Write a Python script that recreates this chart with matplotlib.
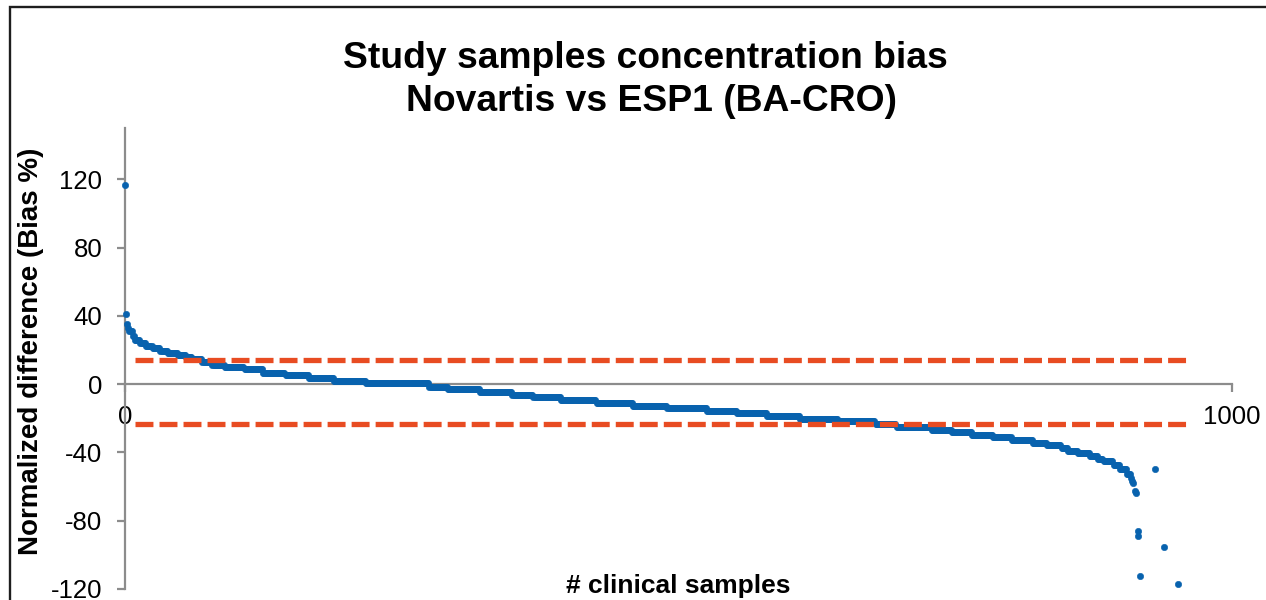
import numpy as np
import matplotlib
matplotlib.use("Agg")
import matplotlib.pyplot as plt
from matplotlib.patches import Rectangle

plt.rcParams['font.family'] = ['Liberation Sans', 'DejaVu Sans']
plt.rcParams['axes.unicode_minus'] = False

# ---- data ----
# sorted bias values (run-length: level and number of consecutive samples)
bias_levels = [116.4, 41, 35, 33, 31, 28, 26, 24, 22.5, 21, 19.5, 18.5, 17, 15.8, 14.6,
               12.8, 11.2, 10.2, 8.7, 6.7, 5.3, 3.7, 2.0, 0.4, -1.6, -3.0, -4.5, -6.1,
               -7.7, -9.3, -11.0, -12.6, -14.1, -15.8, -17.1, -18.7, -20.3, -21.8, -23.4,
               -25.0, -26.6, -28.2, -29.6, -31.1, -32.7, -34.3, -35.9, -37.4, -39.0, -40.6,
               -42.2, -43.7, -45.0, -47.6, -49.5, -52.5, -55.2, -56.8, -58.0, -62.6, -64.0]
bias_counts = [1, 1, 1, 1, 3, 2, 5, 5, 6, 7, 7, 9, 7, 6, 9, 9, 11, 18, 17, 20, 21, 23, 29,
               57, 17, 29, 29, 19, 25, 32, 33, 31, 36, 27, 27, 30, 34, 34, 19, 32, 18, 18,
               19, 17, 19, 13, 13, 6, 9, 11, 7, 5, 9, 6, 6, 4, 1, 1, 1, 1, 1]
outlier_x = [915, 915, 917, 930, 939, 951]
outlier_y = [-86.1, -89.1, -112.6, -49.7, -95.4, -117.1]

limit_x = [9, 962]
upper_limit = 14.4
lower_limit = -23.1

title_line1 = "Study samples concentration bias"
title_line2 = "Novartis vs ESP1 (BA-CRO)"
x_label = "# clinical samples"
y_label = "Normalized difference (Bias %)"
x_ticks = [0, 1000]
y_ticks = [-120, -80, -40, 0, 40, 80, 120]

# ---- build series ----
bias = np.repeat(np.array(bias_levels, dtype=float), bias_counts)
idx = np.arange(len(bias))

W, H = 1266, 600
fig = plt.figure(figsize=(W / 100, H / 100), dpi=100)
fig.patch.set_facecolor('white')

ax = fig.add_axes([125 / W, 1 - 589 / H, (1232 - 125) / W, (589 - 128) / H])
ax.set_xlim(0, 1000)
ax.set_ylim(-120, 150)

blue = '#0862AE'
orange = '#E84C22'
axis_gray = '#8C8C8C'

ax.plot(idx, bias, linestyle='none', marker='o', ms=4.6, mew=0.4, mec=blue, color=blue,
        zorder=3, clip_on=False)
ax.plot(outlier_x, outlier_y, linestyle='none', marker='o', ms=4.6, mew=0.4, mec=blue,
        color=blue, zorder=3, clip_on=False)

for lvl in (upper_limit, lower_limit):
    ax.plot(limit_x, [lvl, lvl], color=orange, lw=3.8, dashes=(3.4, 1.15),
            solid_capstyle='butt', dash_capstyle='butt', zorder=4)

for s in ('top', 'right'):
    ax.spines[s].set_visible(False)
ax.spines['bottom'].set_position(('data', 0))
for s in ('left', 'bottom'):
    ax.spines[s].set_color(axis_gray)
    ax.spines[s].set_linewidth(1.6)
    ax.spines[s].set_zorder(2)

ax.set_xticks(x_ticks)
ax.set_yticks(y_ticks)
ax.set_xticklabels([str(v) for v in x_ticks])
ax.set_yticklabels([str(v) for v in y_ticks])
ax.tick_params(axis='both', direction='out', length=5.8, width=1.6, color=axis_gray,
               labelsize=18.5, labelcolor='black')
ax.tick_params(axis='y', pad=10.5)
ax.tick_params(axis='x', pad=9)
ax.patch.set_alpha(0)

fig.text(645 / W, 1 - 68 / H, title_line1, ha='center', va='baseline',
         fontsize=26.8, fontweight='bold')
fig.text(652 / W, 1 - 111 / H, title_line2, ha='center', va='baseline',
         fontsize=26.8, fontweight='bold')
fig.text(678 / W, 1 - 593 / H, x_label, ha='center', va='baseline',
         fontsize=19, fontweight='bold')
fig.text(31 / W, 1 - 351 / H, y_label, ha='center', va='center', rotation=90,
         fontsize=20, fontweight='bold')

fig.patches.append(Rectangle((9.7 / W, -0.1), 2.0, (1 - 7.3 / H) + 0.1,
                             transform=fig.transFigure, fill=False,
                             edgecolor='#1E1E1E', linewidth=1.7, zorder=10))

fig.savefig('out.png', dpi=100, facecolor='white')
